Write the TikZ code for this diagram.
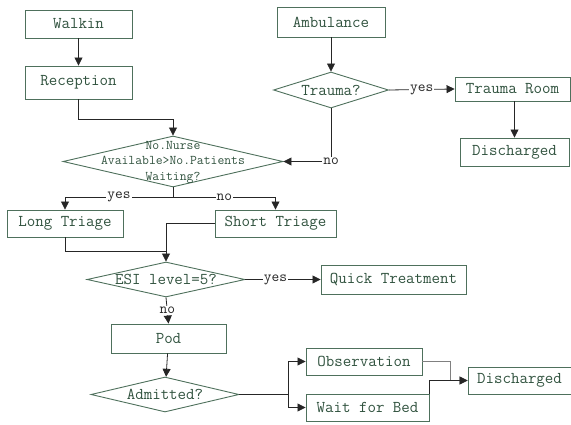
\documentclass[tikz,border=0pt]{standalone}
\usepackage{fontspec}
\usetikzlibrary{shapes.geometric,arrows.meta,calc}
\definecolor{boxc}{RGB}{78,112,92}
\definecolor{txtc}{RGB}{48,82,62}
\begin{document}
\begin{tikzpicture}[x=1pt,y=-1pt,
  box/.style={draw=boxc,line width=0.9pt,rectangle,inner sep=0pt,text=txtc,font=\ttfamily\fontsize{16.5}{19}\selectfont},
  dia/.style={draw=boxc,line width=0.9pt,diamond,inner sep=0pt},
  dtxt/.style={text=txtc,inner sep=0pt,font=\ttfamily\fontsize{16.5}{19}\selectfont},
  conn/.style={draw=black!85,line width=0.8pt},
  arr/.style={conn,-{Triangle[length=8pt,width=8pt]}},
  lbl/.style={fill=white,inner sep=1pt,text=black!85,font=\ttfamily\fontsize{15}{17}\selectfont}]
\useasboundingbox (0,0) rectangle (571,425);
% nodes
\node[box,minimum width=107pt,minimum height=28pt] (walk) at (78.5,24) {Walkin};
\node[box,minimum width=107pt,minimum height=33pt] (recep) at (78.5,82.5) {Reception};
\node[box,minimum width=108pt,minimum height=30pt] (amb) at (331,22) {Ambulance};
\node[dia,minimum width=115pt,minimum height=36pt] (trauma) at (331,90) {};
\node[dtxt] at (trauma) {Trauma?};
\node[box,minimum width=115pt,minimum height=24pt] (troom) at (512.5,89) {Trauma Room};
\node[box,minimum width=109pt,minimum height=28pt] (dis1) at (514.5,152) {Discharged};
\node[dia,minimum width=220pt,minimum height=51pt] (nurse) at (173,161.5) {};
\node[dtxt,align=center,font=\ttfamily\fontsize{13.3}{15.5}\selectfont] at (173,162) {No.Nurse\\Available>No.Patients\\Waiting?};
\node[box,minimum width=116pt,minimum height=27pt] (long) at (65,223.5) {Long Triage};
\node[box,minimum width=121pt,minimum height=27pt] (short) at (275.5,223.5) {Short Triage};
\node[dia,minimum width=158pt,minimum height=35pt] (esi) at (166,279.5) {};
\node[dtxt] at (esi) {ESI level=5?};
\node[box,minimum width=145pt,minimum height=29pt] (quick) at (393.5,279.5) {Quick Treatment};
\node[box,minimum width=115pt,minimum height=29pt] (pod) at (168.5,338.5) {Pod};
\node[dia,minimum width=148pt,minimum height=35pt] (adm) at (165,394.5) {};
\node[dtxt] at (adm) {Admitted?};
\node[box,minimum width=116pt,minimum height=27pt] (obs) at (364,361.5) {Observation};
\node[box,minimum width=123pt,minimum height=27pt] (wait) at (367.5,407.5) {Wait for Bed};
\node[box,minimum width=103pt,minimum height=27pt] (dis2) at (519.5,380.5) {Discharged};
\coordinate (split) at (173,197);
\coordinate (jn) at (166,251);
\coordinate (split2) at (288,394.5);
% connectors
\draw[arr] (walk) -- (recep);
\draw[arr] (recep.south) |- ++(0,20) -| (nurse.north);
\draw[arr] (amb) -- (trauma);
\draw[arr] (trauma.east) -- node[lbl]{yes} (troom.west);
\draw[arr] (troom.south -| dis1.north) -- (dis1.north);
\draw[arr] (trauma.south) |- node[lbl,pos=0.5]{no} (nurse.east);
\draw[conn] (nurse.south) -- (split);
\draw[arr] (split) -| node[lbl,pos=0.25]{yes} (long.north);
\draw[arr] (split) -| node[lbl,pos=0.25]{no} (short.north);
\draw[conn] (long.south) |- (jn);
\draw[arr] (short.west) -| (esi.north);
\draw[arr] (esi.east) -- node[lbl,pos=0.4]{yes} (quick.west);
\draw[arr] (esi.south) -- node[lbl]{no} (pod.north);
\draw[arr] (pod) -- (adm);
\draw[conn] (adm.east) -- (split2);
\draw[arr] (split2) |- (obs.west);
\draw[arr] (split2) |- (wait.west);
\draw[arr,draw=black!50] (obs.east) -- ++(28,0) |- (dis2.west);
\draw[arr] (wait.north east) |- (dis2.west);
\end{tikzpicture}
\end{document}
